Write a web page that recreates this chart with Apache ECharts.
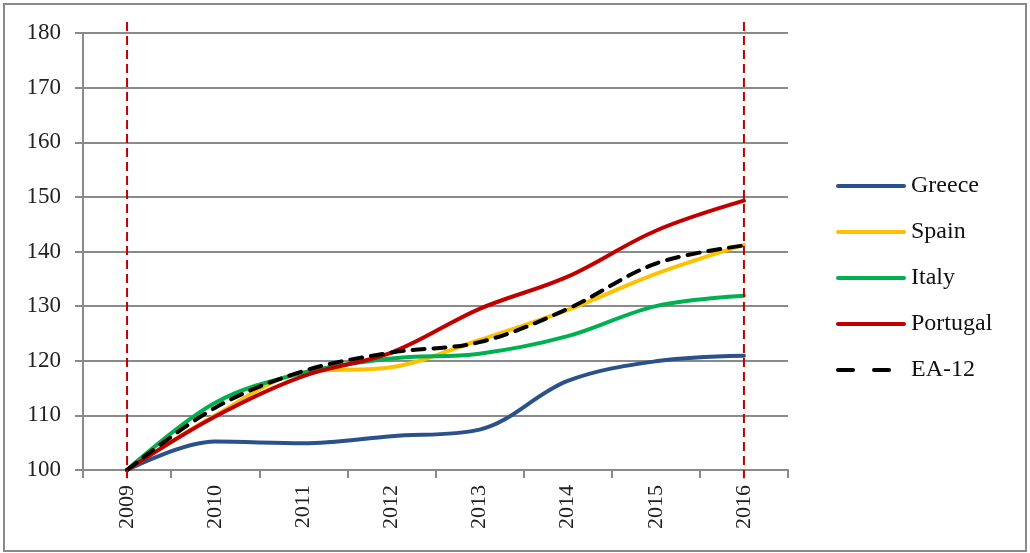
<!DOCTYPE html>
<html>
<head>
<meta charset="utf-8">
<script src="https://cdn.jsdelivr.net/npm/echarts@6/dist/echarts.min.js"></script>
<style>
  html, body { margin: 0; padding: 0; background: #fff; }
  #chart { width: 1030px; height: 553px; }
</style>
</head>
<body>
<div id="chart"></div>
<script>
// Index, 2009 = 100
const years = ['2009', '2010', '2011', '2012', '2013', '2014', '2015', '2016'];
const greece   = [100, 105.2, 104.9, 106.2, 107.4, 116.3, 119.9, 120.9];
const spain    = [100, 110.0, 117.9, 118.8, 123.8, 129.3, 135.9, 141.2];
const italy    = [100, 112.3, 117.8, 120.4, 121.3, 124.5, 130.0, 131.9];
const portugal = [100, 109.8, 117.2, 121.5, 129.5, 135.4, 143.8, 149.3];
const ea12     = [100, 111.4, 118.1, 121.5, 123.4, 129.5, 137.8, 141.1];
const yTicks = { min: 100, max: 180, step: 10 };
// vertical reference lines at the first and last year, running slightly past the plot
const markYears = ['2009', '2016'];
const markSpan = [182, 98.5];

const serif = '"Liberation Serif", "DejaVu Serif", serif';
const gridGray = '#8a8a8a';

// legend keys: a solid bar, or two dashes for the aggregate
const solidKey  = 'path://M2,0H68A2,2 0 0 1 68,4H2A2,2 0 0 1 2,0Z';
const dashedKey = 'path://M2,0H17A2,2 0 0 1 17,4H2A2,2 0 0 1 2,0Z M38,0H53A2,2 0 0 1 53,4H38A2,2 0 0 1 38,0Z M70,0L70,4';

function lineSeries(name, data, color, dashed) {
  return {
    name: name,
    type: 'line',
    data: data,
    smooth: 0.35,
    symbol: 'none',
    lineStyle: { color: color, width: 4, type: dashed ? [12, 9] : 'solid', cap: 'round' },
    itemStyle: { color: color },
    z: dashed ? 5 : 3
  };
}

const series = [
  lineSeries('Greece', greece, '#2A5189'),
  lineSeries('Spain', spain, '#FFC000'),
  lineSeries('Italy', italy, '#00B050'),
  lineSeries('Portugal', portugal, '#C00000'),
  lineSeries('EA-12', ea12, '#000000', true)
];

const chart = echarts.init(document.getElementById('chart'), null, { renderer: 'canvas' });
chart.setOption({
  animation: false,
  backgroundColor: '#fff',
  grid: { left: 83, right: 242, top: 33, bottom: 83, containLabel: false },
  xAxis: {
    type: 'category',
    data: years,
    boundaryGap: true,
    axisLine: { lineStyle: { color: gridGray, width: 2 } },
    axisTick: { show: true, length: 8, lineStyle: { color: gridGray, width: 2 } },
    axisLabel: { rotate: 90, margin: 15, fontFamily: serif, fontSize: 22, color: '#222' },
    splitLine: { show: false }
  },
  yAxis: {
    type: 'value',
    min: yTicks.min,
    max: yTicks.max,
    interval: yTicks.step,
    axisLine: { show: true, lineStyle: { color: gridGray, width: 2 } },
    axisTick: { show: true, length: 8, lineStyle: { color: gridGray, width: 2 } },
    axisLabel: { margin: 22, fontFamily: serif, fontSize: 23, color: '#222' },
    splitLine: { show: true, lineStyle: { color: gridGray, width: 2 } }
  },
  legend: {
    orient: 'vertical',
    left: 831,
    top: 169,
    itemWidth: 70,
    itemHeight: 26,
    itemGap: 22,
    itemStyle: { borderWidth: 0 },
    textStyle: { fontFamily: serif, fontSize: 24, color: '#111' },
    data: series.map(s => ({ name: s.name, icon: s.name === 'EA-12' ? dashedKey : solidKey }))
  },
  series: series
});

// reference lines placed through the chart's own scales
const refLines = markYears.map(y => {
  const top = chart.convertToPixel({ xAxisIndex: 0, yAxisIndex: 0 }, [y, markSpan[0]]);
  const bot = chart.convertToPixel({ xAxisIndex: 0, yAxisIndex: 0 }, [y, markSpan[1]]);
  return {
    type: 'line',
    silent: true,
    z: 10,
    shape: { x1: top[0], y1: top[1], x2: bot[0], y2: bot[1] },
    style: { stroke: '#C00000', lineWidth: 2, lineDash: [9, 5] }
  };
});

chart.setOption({
  graphic: [{
    type: 'rect',
    silent: true,
    shape: { x: 4, y: 4, width: 1022, height: 547 },
    style: { fill: 'none', stroke: gridGray, lineWidth: 2 }
  }].concat(refLines)
});
</script>
</body>
</html>
